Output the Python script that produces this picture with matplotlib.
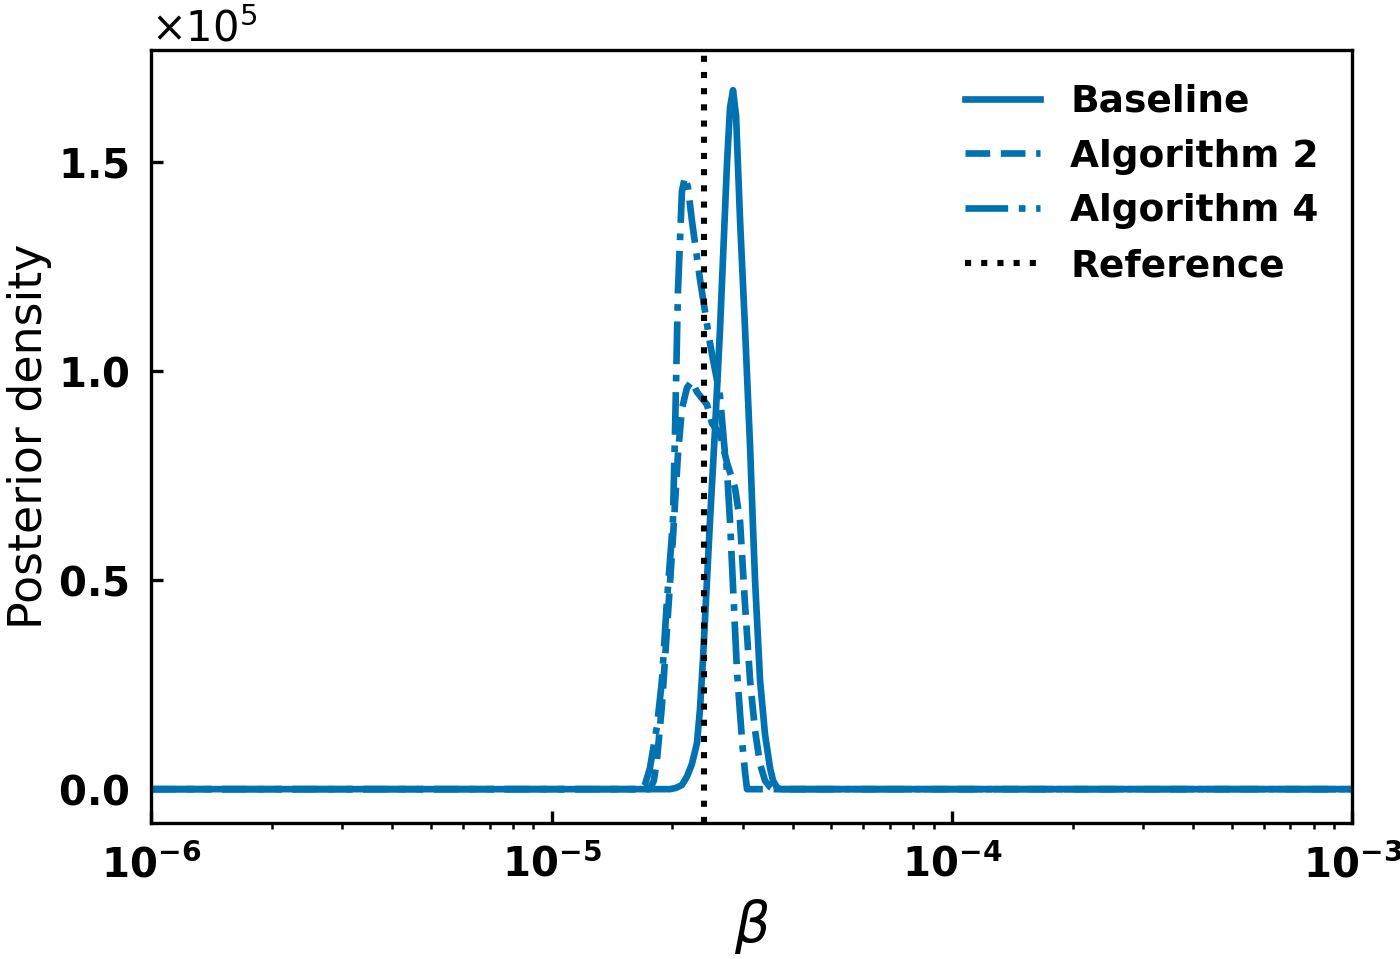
import matplotlib
matplotlib.use("Agg")
import matplotlib.pyplot as plt

blue = "#0072B2"

# posterior density curves (beta, density / 1e5)
base_beta = [1e-6, 1.975e-5, 2.044e-5, 2.116e-5, 2.178e-5, 2.241e-5, 2.307e-5,
             2.347e-5, 2.388e-5, 2.486e-5, 2.559e-5, 2.634e-5, 2.743e-5, 2.790e-5,
             2.839e-5, 2.889e-5, 2.956e-5, 3.042e-5, 3.131e-5, 3.186e-5, 3.222e-5,
             3.316e-5, 3.413e-5, 3.513e-5, 3.574e-5, 3.650e-5, 3.721e-5, 1e-3]
base_dens = [0.0, 0.0, 0.003, 0.01, 0.03, 0.06, 0.11,
             0.19, 0.31, 0.64, 0.86, 1.10, 1.50, 1.63,
             1.672, 1.61, 1.36, 1.10, 0.82, 0.62, 0.50,
             0.26, 0.13, 0.05, 0.02, 0.005, 0.0, 0.0]

alg2_beta = [1e-6, 1.760e-5, 1.800e-5, 1.833e-5, 1.886e-5, 1.941e-5, 2.009e-5,
             2.068e-5, 2.116e-5, 2.178e-5, 2.241e-5, 2.307e-5, 2.444e-5, 2.515e-5,
             2.634e-5, 2.711e-5, 2.743e-5, 2.872e-5, 2.956e-5, 3.042e-5, 3.131e-5,
             3.222e-5, 3.316e-5, 3.413e-5, 3.513e-5, 3.574e-5, 1e-3]
alg2_dens = [0.0, 0.0, 0.02, 0.07, 0.20, 0.38, 0.60,
             0.80, 0.91, 0.96, 0.976, 0.95, 0.92, 0.875,
             0.85, 0.80, 0.78, 0.72, 0.64, 0.44, 0.26,
             0.14, 0.06, 0.02, 0.005, 0.0, 0.0]

alg4_beta = [1e-6, 1.680e-5, 1.710e-5, 1.760e-5, 1.833e-5, 1.886e-5, 1.941e-5,
             2.009e-5, 2.033e-5, 2.068e-5, 2.116e-5, 2.153e-5, 2.190e-5, 2.241e-5,
             2.347e-5, 2.486e-5, 2.634e-5, 2.700e-5, 2.743e-5, 2.790e-5, 2.872e-5,
             2.905e-5, 2.956e-5, 3.000e-5, 3.042e-5, 3.077e-5, 1e-3]
alg4_dens = [0.0, 0.0, 0.01, 0.05, 0.15, 0.26, 0.45,
             0.64, 0.85, 1.19, 1.43, 1.465, 1.44, 1.36,
             1.22, 1.067, 0.94, 0.82, 0.76, 0.64, 0.38,
             0.28, 0.18, 0.10, 0.04, 0.0, 0.0]

beta_ref = 2.4e-5

scale = 1e5

fig = plt.figure(figsize=(7, 4.795), dpi=200)
ax = fig.add_axes([0.108, 0.1418, 0.858, 0.806])

ax.plot(base_beta, [d * scale for d in base_dens], color=blue, lw=2.4, ls="-", label="Baseline")
ax.plot(alg2_beta, [d * scale for d in alg2_dens], color=blue, lw=2.4, ls="--", label="Algorithm 2")
ax.plot(alg4_beta, [d * scale for d in alg4_dens], color=blue, lw=2.4, ls="-.", label="Algorithm 4")
ax.axvline(beta_ref, color="black", lw=2.2, ls=":", label="Reference")

ax.set_xscale("log")
ax.set_xlim(1e-6, 1e-3)
ax.set_ylim(-0.081 * scale, 1.768 * scale)
ax.ticklabel_format(axis="y", style="sci", scilimits=(0, 0), useMathText=True)
ax.set_yticks([0, 0.5e5, 1.0e5, 1.5e5])

for lab in ax.get_xticklabels() + ax.get_yticklabels():
    lab.set_fontweight("bold")
    lab.set_fontsize(14.5)
ax.yaxis.get_offset_text().set_fontsize(15)

for s in ax.spines.values():
    s.set_linewidth(1.2)
ax.tick_params(which="major", direction="in", width=1.2, length=4.2, pad=8)
ax.tick_params(which="minor", direction="out", width=0.9, length=2.2)

ax.set_xlabel(r"$\beta$", fontsize=20, labelpad=4)
ax.set_ylabel("Posterior density", fontsize=16.5, labelpad=2)

leg = ax.legend(loc="upper right", frameon=False, handlelength=2.0,
                prop={"weight": "bold", "size": 13.5})

fig.savefig("out.png", dpi=200)
